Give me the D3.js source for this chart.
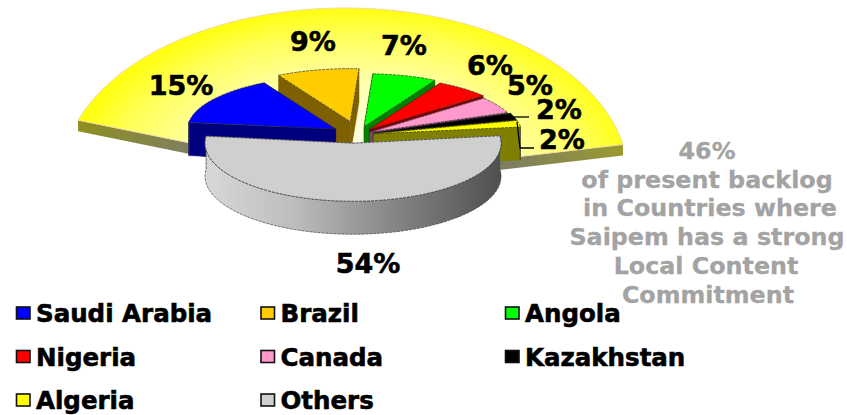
<!DOCTYPE html>
<html><head><meta charset="utf-8">
<script src="https://cdn.jsdelivr.net/npm/d3@7"></script>
<style>html,body{margin:0;padding:0;background:#fff}svg{display:block}text{font-family:"DejaVu Sans",Verdana,sans-serif;font-weight:bold}</style>
</head><body><svg id="c" width="847" height="415"></svg>
<script>
const countries = ["Saudi Arabia","Brazil","Angola","Nigeria","Canada","Kazakhstan","Algeria","Others"];
const shares = [15,9,7,6,5,2,2,54];
const shareLabels = ["15%","9%","7%","6%","5%","2%","2%","54%"];
const topColors = ["#0000ff","#ffcc00","#00ff00","#ff0000","#ff99cc","#000000","#ffff00","#cfcfcf"];
const sideColors = ["#00007f","#7f6000","#007f00","#7f0000","#7f4c66","#000000","#7f7f00","#999999"];
const explode = [27,35,22,18,14,16,16,21];
const drawOrder = [1,2,0,3,4,5,6,7];
const noteLines = ["46%","of present backlog","in Countries where","Saipem has a strong","Local Content","Commitment"];

const svg = d3.select("#c");
const rad = d => d*Math.PI/180;
const defs = svg.append("defs");

/* ---- yellow backdrop fan ---- */
const fan = {cx:345,cy:176,apexX:352,apexY:176,rx:283,ry:168,a0:rad(-70.6),a1:rad(79.2),depth:11};
const fanG = defs.append("radialGradient").attr("id","fanFill").attr("gradientUnits","userSpaceOnUse")
  .attr("cx",0).attr("cy",0).attr("r",1)
  .attr("gradientTransform",`translate(${fan.apexX},${fan.apexY}) scale(${fan.rx},${fan.ry})`);
[[0,"#ffffff"],[0.55,"#ffffb0"],[0.85,"#ffff55"],[1,"#ffff10"]].forEach(s=>fanG.append("stop").attr("offset",s[0]).attr("stop-color",s[1]));
const fanPt = a=>[fan.cx+fan.rx*Math.sin(a), fan.cy-fan.ry*Math.cos(a)];
const line = d3.line();
const fanSideG = defs.append("linearGradient").attr("id","fanSide").attr("gradientUnits","userSpaceOnUse")
  .attr("x1",78).attr("x2",623).attr("y1",0).attr("y2",0);
[[0,"#8f8f20"],[0.2,"#7f7f60"],[0.8,"#7f7f60"],[1,"#9a9a30"]].forEach(s=>fanSideG.append("stop").attr("offset",s[0]).attr("stop-color",s[1]));
const apex=[fan.apexX,fan.apexY];
[fan.a0,fan.a1].forEach(a=>{
  const p=fanPt(a);
  svg.append("path").attr("d",line([p,apex,[apex[0],apex[1]+fan.depth],[p[0],p[1]+fan.depth]])+"Z").attr("fill","url(#fanSide)");
});
const rim = d3.range(fan.a0,fan.a1,0.01).concat([fan.a1]).map(fanPt);
svg.append("path").attr("d",line(rim.concat([apex]))+"Z")
  .attr("fill","url(#fanFill)").attr("stroke","#f5d9a0").attr("stroke-width",1);

/* ---- exploded 3D pie ---- */
const P = {cx:358,cy:135,rx:148,ryBack:53,ryFront:58,depth:33,othersShift:-5};
const startDeg = 277;
const slices = d3.pie().sort(null).startAngle(rad(startDeg)).endAngle(rad(startDeg+360))(shares);
const arc = d3.arc().innerRadius(0).outerRadius(P.rx);
const greySide = defs.append("linearGradient").attr("id","greySide").attr("gradientUnits","userSpaceOnUse")
  .attr("x1",205).attr("x2",500).attr("y1",0).attr("y2",0);
[[0,"#d8d8d8"],[0.3,"#bdbdbd"],[0.6,"#8c8c8c"],[1,"#4f4f4f"]].forEach(s=>greySide.append("stop").attr("offset",s[0]).attr("stop-color",s[1]));

drawOrder.forEach(i=>{
  const s = slices[i], mid=(s.startAngle+s.endAngle)/2;
  const isOthers = i===slices.length-1;
  const ry = isOthers?P.ryFront:P.ryBack, k=ry/P.rx;
  const ox = P.cx+(isOthers?P.othersShift:0)+explode[i]*Math.sin(mid), oy = P.cy-explode[i]*(P.ryFront/P.rx)*Math.cos(mid);
  const pt = a=>[ox+P.rx*Math.sin(a), oy-ry*Math.cos(a)];
  const tip=[ox,oy], down=p=>[p[0],p[1]+P.depth];
  const g = svg.append("g");
  const edge="#333";
  [s.startAngle,s.endAngle].forEach(a=>{
    const p=pt(a);
    g.append("path").attr("d",line([tip,p,down(p),down(tip)])+"Z")
      .attr("fill",sideColors[i]).attr("stroke",sideColors[i]).attr("stroke-width",.5);
  });
  const front = d3.range(s.startAngle,s.endAngle,0.02).concat([s.endAngle]).filter(a=>Math.cos(a)<0.16);
  if(front.length>1){
    const upper=front.map(pt), lower=front.map(a=>down(pt(a))).reverse();
    g.append("path").attr("d",line(upper.concat(lower))+"Z")
      .attr("fill",isOthers?"url(#greySide)":sideColors[i]).attr("stroke","#444").attr("stroke-width",.7).attr("stroke-dasharray","3 1");
  }
  g.append("path").attr("d",arc(s))
    .attr("transform",`translate(${ox},${oy}) scale(1,${k})`)
    .attr("fill",topColors[i]).attr("stroke",edge).attr("stroke-width",.7)
    .attr("stroke-dasharray","3 1").attr("vector-effect","non-scaling-stroke");
});

/* ---- leader lines ---- */
const leader = d3.line();
svg.append("path").attr("d",leader([[513,117],[529,117]])).attr("fill","none").attr("stroke","#000").attr("stroke-width",1.3);
svg.append("path").attr("d",leader([[517,122],[520,148],[534,148]])).attr("fill","none").attr("stroke","#000").attr("stroke-width",1.3);

/* ---- share labels ---- */
const labelPos = [[181,95],[313,51],[404,55],[490,75],[530,95],[559,119],[562,149],[368,273]];
svg.append("g").selectAll("text").data(shareLabels).join("text")
  .attr("x",(d,i)=>labelPos[i][0]).attr("y",(d,i)=>labelPos[i][1])
  .attr("text-anchor","middle").attr("font-size",27).attr("fill","#000")
  .attr("stroke","#000").attr("stroke-width",.6).text(d=>d);

/* ---- side note ---- */
const noteX = [707,707,710,707,706,708];
svg.append("g").selectAll("text").data(noteLines).join("text")
  .attr("x",(d,i)=>noteX[i]).attr("y",(d,i)=>159+i*28.7)
  .attr("text-anchor","middle").attr("font-size",23.8).attr("fill","#a3a3a3")
  .attr("stroke","#a3a3a3").attr("stroke-width",.3).text(d=>d);

/* ---- legend ---- */
const col = d3.scalePoint().domain([0,1,2]).range([16,505]);
const row = d3.scalePoint().domain([0,1,2]).range([313,400]);
const lg = svg.append("g").selectAll("g").data(countries).join("g")
  .attr("transform",(d,i)=>`translate(${col(i%3)},${row(Math.floor(i/3))})`);
lg.append("rect").attr("x",0.5).attr("y",-6).attr("width",13.5).attr("height",12)
  .attr("fill",(d,i)=>topColors[i]).attr("stroke","#111").attr("stroke-width",1.6);
lg.append("text").attr("x",20).attr("y",9).attr("font-size",24.5).attr("fill","#000")
  .attr("stroke","#000").attr("stroke-width",.6).text(d=>d);
</script></body></html>
